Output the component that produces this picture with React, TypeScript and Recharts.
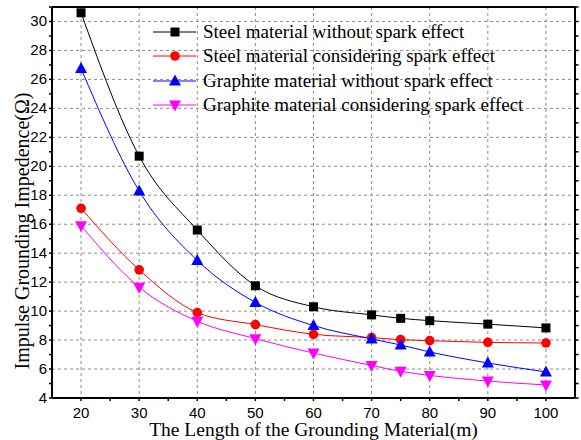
import React from "react";
import {
  LineChart,
  Line,
  XAxis,
  YAxis,
  CartesianGrid,
  ReferenceLine,
} from "recharts";

// grounding material length (m)
const lengths = [20, 30, 40, 50, 60, 70, 75, 80, 90, 100];

// impulse grounding impedance (Ω)
const steelNoSpark = [30.6, 20.7, 15.6, 11.75, 10.3, 9.74, 9.5, 9.34, 9.1, 8.84];
const steelSpark = [17.1, 12.85, 9.9, 9.07, 8.4, 8.17, 8.03, 7.96, 7.84, 7.8];
const graphiteNoSpark = [26.75, 18.3, 13.5, 10.6, 9.0, 8.08, 7.66, 7.18, 6.42, 5.8];
const graphiteSpark = [15.9, 11.65, 9.3, 8.1, 7.1, 6.25, 5.84, 5.56, 5.17, 4.9];

const xTicks = [20, 30, 40, 50, 60, 70, 80, 90, 100];
const xMinorTicks = [20, 25, 30, 35, 40, 45, 50, 55, 60, 65, 70, 75, 80, 85, 90, 95, 100];
const yTicks = [4, 6, 8, 10, 12, 14, 16, 18, 20, 22, 24, 26, 28, 30];
const yMinorTicks = [4, 5, 6, 7, 8, 9, 10, 11, 12, 13, 14, 15, 16, 17, 18, 19, 20, 21, 22, 23, 24, 25, 26, 27, 28, 29, 30, 31];

const data = lengths.map((len, i) => ({
  len,
  steelNoSpark: steelNoSpark[i],
  steelSpark: steelSpark[i],
  graphiteNoSpark: graphiteNoSpark[i],
  graphiteSpark: graphiteSpark[i],
}));

type Shape = "square" | "circle" | "up" | "down";

function Marker({ shape, cx, cy, color }: { shape: Shape; cx: number; cy: number; color: string }) {
  if (shape === "square") return <rect x={cx - 4.5} y={cy - 4.5} width={9} height={9} fill={color} />;
  if (shape === "circle") return <circle cx={cx} cy={cy} r={4.8} fill={color} />;
  if (shape === "up")
    return <polygon points={`${cx},${cy - 6.5} ${cx - 6},${cy + 4.5} ${cx + 6},${cy + 4.5}`} fill={color} />;
  return <polygon points={`${cx},${cy + 6.5} ${cx - 6},${cy - 4.5} ${cx + 6},${cy - 4.5}`} fill={color} />;
}

const dotOf = (shape: Shape, color: string) => (props: any) => {
  const { cx, cy, index } = props;
  if (cx == null || cy == null) return <g key={index} />;
  return <Marker key={index} shape={shape} cx={cx} cy={cy} color={color} />;
};

const series = [
  { key: "steelNoSpark", name: "Steel material without spark effect", color: "#000000", shape: "square" as Shape },
  { key: "steelSpark", name: "Steel material considering spark effect", color: "#ff0000", shape: "circle" as Shape },
  { key: "graphiteNoSpark", name: "Graphite material without spark effect", color: "#0000ff", shape: "up" as Shape },
  { key: "graphiteSpark", name: "Graphite material considering spark effect", color: "#ff00ff", shape: "down" as Shape },
];

const serif = "'Liberation Serif', 'Times New Roman', serif";
const sans = "'Liberation Sans', Arial, sans-serif";

// legend sits inside the plot, no frame
function LegendBox() {
  return (
    <div style={{ position: "absolute", left: 153, top: 20, fontFamily: serif, fontSize: 19, color: "#000", pointerEvents: "none" }}>
      {series.map((s) => (
        <div key={s.key} style={{ display: "flex", alignItems: "center", height: 24.3 }}>
          <svg width={50} height={20} style={{ display: "block" }}>
            <line x1={0} y1={10} x2={43} y2={10} stroke={s.color} strokeWidth={1} />
            <Marker shape={s.shape} cx={22} cy={10} color={s.color} />
          </svg>
          <span style={{ whiteSpace: "nowrap" }}>{s.name}</span>
        </div>
      ))}
    </div>
  );
}

// left axis: label on even values, short outward mark on every integer
function LeftTick(props: any) {
  const { x, y, payload } = props;
  const v = payload.value;
  return (
    <g>
      <line x1={x + 2} y1={y} x2={x + 5} y2={y} stroke="#000" strokeWidth={1.5} />
      {v % 2 === 0 && (
        <text x={x} y={y} dy={5} textAnchor="end" fontFamily={sans} fontSize={15} fill="#000">
          {v}
        </text>
      )}
    </g>
  );
}

// bottom axis: label every 10, outward mark every 5
function BottomTick(props: any) {
  const { x, y, payload } = props;
  const v = payload.value;
  return (
    <g>
      <line x1={x} y1={y - 8} x2={x} y2={y - 5} stroke="#000" strokeWidth={1.5} />
      {v % 10 === 0 && (
        <text x={x} y={y} dy={11.5} textAnchor="middle" fontFamily={sans} fontSize={15} fill="#000">
          {v}
        </text>
      )}
    </g>
  );
}

// right frame: outward marks only
function RightTick(props: any) {
  const { x, y } = props;
  return <line x1={x} y1={y} x2={x + 3.5} y2={y} stroke="#000" strokeWidth={1.5} />;
}

function YLabel() {
  return (
    <text
      x={22}
      y={231}
      transform="rotate(-90 22 231)"
      textAnchor="middle"
      dominantBaseline="central"
      fontFamily={serif}
      fontSize={20}
      fill="#000"
    >
      Impulse Grounding Impedence(Ω)
    </text>
  );
}

export default function App() {
  return (
    <div style={{ position: "absolute", left: 0, top: 0, width: 581, height: 440, background: "#fff" }}>
      <LineChart width={581} height={440} data={data} margin={{ top: 7, right: 0, bottom: 0, left: 0 }}>
        <CartesianGrid stroke="#8c8c8c" strokeDasharray="3 3" horizontalValues={yTicks} verticalValues={xTicks} />
        <XAxis
          dataKey="len"
          type="number"
          domain={[15, 105]}
          ticks={xMinorTicks}
          interval={0}
          height={42}
          tickLine={false}
          tickSize={6}
          tickMargin={2}
          axisLine={{ stroke: "#000", strokeWidth: 2 }}
          tick={<BottomTick />}
          label={{
            value: "The Length of the Grounding Material(m)",
            position: "insideBottom",
            offset: 4,
            fontFamily: serif,
            fontSize: 19.5,
            fill: "#000",
          }}
        />
        <YAxis
          type="number"
          domain={[4, 31]}
          ticks={yMinorTicks}
          interval={0}
          width={52}
          tickLine={false}
          tickSize={2}
          tickMargin={3}
          axisLine={{ stroke: "#000", strokeWidth: 2 }}
          tick={<LeftTick />}
          allowDataOverflow
          label={<YLabel />}
        />
        <YAxis
          yAxisId="right"
          orientation="right"
          type="number"
          domain={[4, 31]}
          ticks={yMinorTicks}
          interval={0}
          width={6}
          tickSize={0}
          tickMargin={0}
          tickLine={false}
          tick={<RightTick />}
          axisLine={{ stroke: "#000", strokeWidth: 2 }}
          allowDataOverflow
        />
        <ReferenceLine y={31} stroke="#000" strokeWidth={2} ifOverflow="visible" />
        <ReferenceLine x={105} stroke="#000" strokeWidth={2} ifOverflow="visible" />
        {series.map((s) => (
          <Line
            key={s.key}
            dataKey={s.key}
            name={s.name}
            type="monotone"
            stroke={s.color}
            strokeWidth={1}
            dot={dotOf(s.shape, s.color)}
            activeDot={false}
            isAnimationActive={false}
          />
        ))}
      </LineChart>
      <LegendBox />
    </div>
  );
}
